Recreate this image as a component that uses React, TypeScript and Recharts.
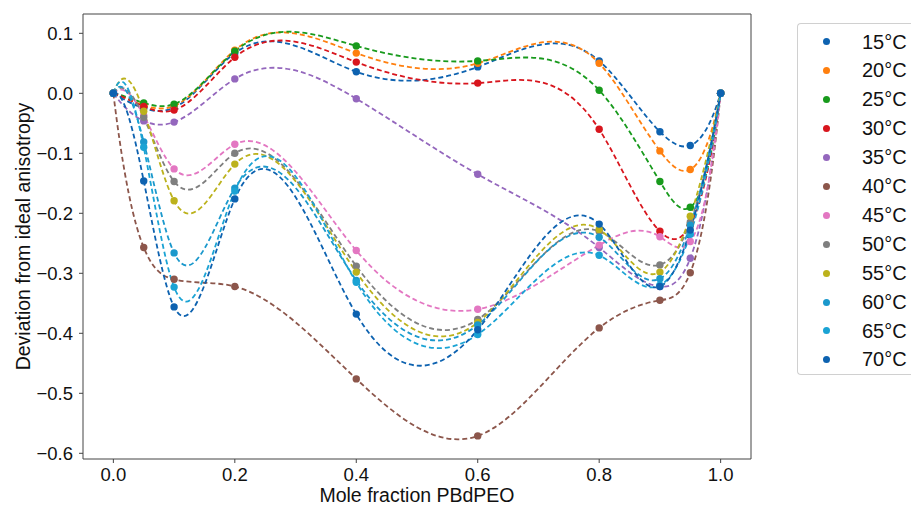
import React from "react";
import { LineChart, Line, XAxis, YAxis, Label, ReferenceLine } from "recharts";

const X_VALUES = [0, 0.05, 0.1, 0.2, 0.4, 0.6, 0.8, 0.9, 0.95, 1.0];
const T15 = [0, -0.025, -0.024, 0.067, 0.036, 0.044, 0.054, -0.064, -0.087, 0];
const T20 = [0, -0.02, -0.021, 0.072, 0.067, 0.05, 0.05, -0.096, -0.127, 0];
const T25 = [0, -0.016, -0.018, 0.07, 0.079, 0.054, 0.005, -0.147, -0.19, 0];
const T30 = [0, -0.022, -0.028, 0.06, 0.052, 0.017, -0.06, -0.23, -0.22, 0];
const T35 = [0, -0.046, -0.048, 0.024, -0.009, -0.135, -0.257, -0.322, -0.275, 0];
const T40 = [0, -0.257, -0.31, -0.322, -0.476, -0.571, -0.391, -0.345, -0.299, 0];
const T45 = [0, -0.037, -0.126, -0.085, -0.262, -0.36, -0.253, -0.239, -0.247, 0];
const T50 = [0, -0.04, -0.147, -0.1, -0.288, -0.377, -0.23, -0.286, -0.215, 0];
const T55 = [0, -0.03, -0.179, -0.118, -0.298, -0.382, -0.227, -0.298, -0.205, 0];
const T60 = [0, -0.081, -0.266, -0.158, -0.312, -0.386, -0.24, -0.309, -0.22, 0];
const T65 = [0, -0.09, -0.323, -0.163, -0.315, -0.402, -0.27, -0.32, -0.235, 0];
const T70 = [0, -0.146, -0.356, -0.176, -0.368, -0.394, -0.218, -0.322, -0.228, 0];

const SERIES_NAMES = ["15°C", "20°C", "25°C", "30°C", "35°C", "40°C", "45°C", "50°C", "55°C", "60°C", "65°C", "70°C"];
const SERIES_VALUES = [T15, T20, T25, T30, T35, T40, T45, T50, T55, T60, T65, T70];
const COLORS = ["#0d62b0", "#ff7f0e", "#189a1c", "#d8151d", "#9467bd", "#8c564b", "#e377c2", "#7f7f7f", "#bcb21c", "#1a98cc", "#1aa3d4", "#0d62b0"];

const X_TICKS = [0, 0.2, 0.4, 0.6, 0.8, 1.0];
const Y_TICKS = [0.1, 0, -0.1, -0.2, -0.3, -0.4, -0.5, -0.6];
const X_DOMAIN = [-0.05, 1.05];
const Y_DOMAIN = [-0.6095, 0.1322];

const FONT = "'Liberation Sans', Arial, Helvetica, sans-serif";

const data = X_VALUES.map((x, i) => {
  const row: Record<string, number> = { x };
  SERIES_VALUES.forEach((s, k) => {
    row["s" + k] = s[i];
  });
  return row;
});

// Not-a-knot cubic spline interpolation as a d3-style curve factory
function splineSlopes(xs: number[], ys: number[]): number[] {
  const n = xs.length;
  const h: number[] = [];
  for (let i = 0; i < n - 1; i++) h.push(xs[i + 1] - xs[i]);
  const A: number[][] = [];
  const b: number[] = [];
  for (let i = 0; i < n; i++) {
    A.push(new Array(n).fill(0));
    b.push(0);
  }
  if (n >= 4) {
    A[0][0] = h[1];
    A[0][1] = -(h[0] + h[1]);
    A[0][2] = h[0];
    A[n - 1][n - 3] = h[n - 2];
    A[n - 1][n - 2] = -(h[n - 3] + h[n - 2]);
    A[n - 1][n - 1] = h[n - 3];
  } else {
    A[0][0] = 1;
    A[n - 1][n - 1] = 1;
  }
  for (let i = 1; i < n - 1; i++) {
    A[i][i - 1] = h[i - 1];
    A[i][i] = 2 * (h[i - 1] + h[i]);
    A[i][i + 1] = h[i];
    b[i] = 6 * ((ys[i + 1] - ys[i]) / h[i] - (ys[i] - ys[i - 1]) / h[i - 1]);
  }
  for (let c = 0; c < n; c++) {
    let p = c;
    for (let r = c + 1; r < n; r++) if (Math.abs(A[r][c]) > Math.abs(A[p][c])) p = r;
    [A[c], A[p]] = [A[p], A[c]];
    [b[c], b[p]] = [b[p], b[c]];
    for (let r = c + 1; r < n; r++) {
      const f = A[r][c] / A[c][c];
      if (f === 0) continue;
      for (let k = c; k < n; k++) A[r][k] -= f * A[c][k];
      b[r] -= f * b[c];
    }
  }
  const M = new Array(n).fill(0);
  for (let r = n - 1; r >= 0; r--) {
    let s = b[r];
    for (let k = r + 1; k < n; k++) s -= A[r][k] * M[k];
    M[r] = s / A[r][r];
  }
  const m: number[] = [];
  for (let i = 0; i < n - 1; i++) {
    m.push((ys[i + 1] - ys[i]) / h[i] - (h[i] * (2 * M[i] + M[i + 1])) / 6);
  }
  const j = n - 2;
  m.push((ys[j + 1] - ys[j]) / h[j] + (h[j] * (M[j] + 2 * M[j + 1])) / 6);
  return m;
}

function splineCurve(context: any) {
  let xs: number[] = [];
  let ys: number[] = [];
  return {
    areaStart() {},
    areaEnd() {},
    lineStart() {
      xs = [];
      ys = [];
    },
    point(x: number, y: number) {
      xs.push(+x);
      ys.push(+y);
    },
    lineEnd() {
      const n = xs.length;
      if (n === 0) return;
      context.moveTo(xs[0], ys[0]);
      if (n === 1) return;
      if (n === 2) {
        context.lineTo(xs[1], ys[1]);
        return;
      }
      const m = splineSlopes(xs, ys);
      for (let i = 0; i < n - 1; i++) {
        const hh = xs[i + 1] - xs[i];
        context.bezierCurveTo(
          xs[i] + hh / 3,
          ys[i] + (m[i] * hh) / 3,
          xs[i + 1] - hh / 3,
          ys[i + 1] - (m[i + 1] * hh) / 3,
          xs[i + 1],
          ys[i + 1]
        );
      }
    },
  };
}

const fmt = (v: number) => {
  const s = Math.abs(v).toFixed(1);
  return v < -1e-9 ? "\u2212" + s : s;
};

export default function App() {
  return (
    <div style={{ position: "absolute", left: 0, top: 0, width: 911, height: 506, background: "#fff", fontFamily: FONT }}>
      <LineChart
        width={911}
        height={506}
        data={data}
        margin={{ top: 14, right: 160, bottom: 0, left: 0 }}
      >
        <XAxis
          type="number"
          dataKey="x"
          domain={X_DOMAIN}
          ticks={X_TICKS}
          tickFormatter={fmt}
          height={47}
          tickSize={4}
          tickMargin={5}
          interval={0}
          allowDataOverflow
          axisLine={{ stroke: "#444", strokeWidth: 1 }}
          tickLine={{ stroke: "#444", strokeWidth: 1 }}
          tick={{ fill: "#111", fontSize: 18.5, fontFamily: FONT }}
        >
          <Label
            content={() => (
              <text x={417} y={502} textAnchor="middle" fill="#111" fontSize={19.5} fontFamily={FONT}>
                Mole fraction PBdPEO
              </text>
            )}
          />
        </XAxis>
        <YAxis
          type="number"
          domain={Y_DOMAIN}
          ticks={Y_TICKS}
          tickFormatter={fmt}
          width={83}
          tickSize={4}
          tickMargin={6}
          interval={0}
          allowDataOverflow
          axisLine={{ stroke: "#444", strokeWidth: 1 }}
          tickLine={{ stroke: "#444", strokeWidth: 1 }}
          tick={{ fill: "#111", fontSize: 18.5, fontFamily: FONT }}
        >
          <Label
            content={() => (
              <text
                transform="translate(30,236.5) rotate(-90)"
                textAnchor="middle"
                fill="#111"
                fontSize={19.5}
                fontFamily={FONT}
              >
                Deviation from ideal anisotropy
              </text>
            )}
          />
        </YAxis>
        <ReferenceLine y={Y_DOMAIN[1]} stroke="#444" strokeWidth={1} />
        <ReferenceLine x={X_DOMAIN[1]} stroke="#444" strokeWidth={1} />
        {SERIES_NAMES.map((name, k) => (
          <Line
            key={name}
            name={name}
            dataKey={"s" + k}
            type={splineCurve as any}
            stroke={COLORS[k]}
            strokeWidth={1.8}
            strokeDasharray="5 3"
            dot={{ r: 3.7, fill: COLORS[k], stroke: COLORS[k], strokeWidth: 0, strokeDasharray: "" }}
            activeDot={false}
            isAnimationActive={false}
          />
        ))}
      </LineChart>
      <div
        style={{
          position: "absolute",
          left: 797,
          top: 23,
          width: 114,
          height: 352,
          boxSizing: "border-box",
          border: "1px solid #d0d0d0",
          borderRight: "none",
          borderRadius: "4px 0 0 4px",
          background: "#fff",
        }}
      >
        {SERIES_NAMES.map((name, k) => (
          <div
            key={name}
            style={{
              position: "absolute",
              left: 0,
              top: 18 - 14.45 + k * 28.9,
              height: 28.9,
              width: 114,
              display: "flex",
              alignItems: "center",
            }}
          >
            <span
              style={{
                position: "absolute",
                left: 25,
                width: 7,
                height: 7,
                borderRadius: "50%",
                background: COLORS[k],
              }}
            />
            <span
              style={{
                position: "absolute",
                left: 64,
                fontSize: 20,
                lineHeight: "28.9px",
                color: "#111",
                fontFamily: FONT,
                whiteSpace: "nowrap",
              }}
            >
              {name}
            </span>
          </div>
        ))}
      </div>
    </div>
  );
}
